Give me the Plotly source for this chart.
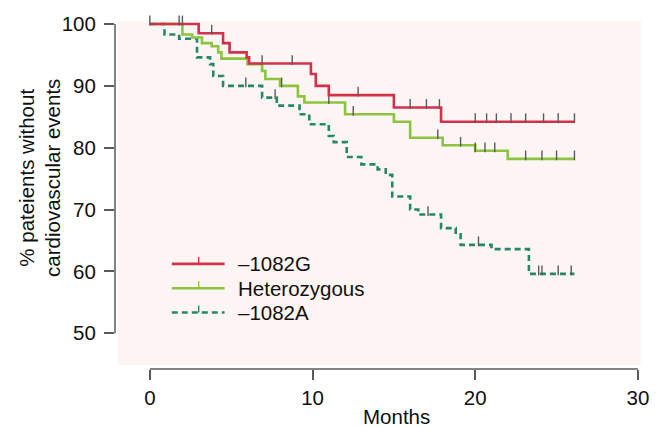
import plotly.graph_objects as go

# ---------------- data ----------------
months_g = [3.0, 4.5, 4.9, 5.95, 6.1, 9.9, 10.2, 11.0, 15.0, 17.9]
surv_g = [98.5, 96.9, 95.4, 94.6, 93.6, 91.9, 90.0, 88.5, 86.5, 84.2]
cens_g = [0.0, 1.8, 2.0, 3.8, 6.9, 8.75, 12.8, 16.0, 17.0, 17.8,
          20.0, 20.7, 21.3, 22.2, 23.1, 24.2, 25.1, 26.1]
end_g = 26.1

months_h = [2.0, 2.6, 3.2, 3.8, 4.2, 4.4, 6.0, 6.9, 7.1, 8.0, 9.1, 9.5,
            12.0, 15.0, 16.0, 18.0, 20.0, 22.0]
surv_h = [98.3, 97.8, 96.9, 96.4, 95.4, 94.4, 93.5, 92.4, 91.1, 90.0, 88.3, 87.3,
          85.4, 84.2, 81.6, 80.4, 79.5, 78.2]
cens_h = [8.1, 11.0, 12.5, 17.7, 19.1, 20.0, 20.6, 21.2, 23.1, 24.1, 25.0, 26.1]
end_h = 26.1

months_a = [0.9, 1.8, 2.9, 3.7, 3.9, 4.5, 6.9, 7.8, 9.2, 9.8, 11.0, 11.3, 12.1,
            13.0, 14.0, 14.5, 14.9, 16.0, 16.5, 17.9, 18.8, 19.1, 21.0, 23.3]
surv_a = [98.3, 97.6, 94.6, 93.5, 91.6, 90.0, 88.1, 86.8, 85.4, 83.8, 81.9, 80.9, 78.5,
          77.3, 76.5, 75.6, 72.1, 70.0, 69.2, 67.0, 66.0, 64.3, 63.6, 59.6]
cens_a = [5.9, 7.7, 17.1, 20.2, 23.9, 24.1, 25.1, 25.9]
end_a = 26.1

series_names = ["\u20131082G", "Heterozygous", "\u20131082A"]
x_ticks = [0, 10, 20, 30]
y_ticks = [50, 60, 70, 80, 90, 100]

# ---------------- geometry / style ----------------
W, H = 661, 427
ML, MR, MT, MB = 115, 18, 17, 58
PW, PH = W - ML - MR, H - MT - MB
XR = [-2.143, 30.19]
YR = [44.23, 100.64]
FONT = "Liberation Sans, Arial, Helvetica, sans-serif"
FS = 20.5
AXC = "#5a5a5a"
colors = ["#d3304c", "#8cc43f", "#26866a"]
dashes = ["solid", "solid", "6px,4px"]
px_per_unit = PH / (YR[1] - YR[0])


def px_x(p):
    return (p - ML) / PW


def px_y(p):
    return (H - MB - p) / PH


def step_value(months, surv, t):
    v = 100.0
    for m, s in zip(months, surv):
        if m <= t:
            v = s
    return v


fig = go.Figure()

groups = [
    (months_a, surv_a, cens_a, end_a, 2),
    (months_h, surv_h, cens_h, end_h, 1),
    (months_g, surv_g, cens_g, end_g, 0),
]
for months, surv, cens, end, k in groups:
    xs = [0.0] + months + [end]
    ys = [100.0] + surv + [surv[-1]]
    fig.add_trace(go.Scatter(
        x=xs, y=ys, mode="lines", line_shape="hv",
        line=dict(color=colors[k], width=2.6, dash=dashes[k]),
        showlegend=False, hoverinfo="skip"))
    off = 3.5 / px_per_unit
    fig.add_trace(go.Scatter(
        x=cens, y=[step_value(months, surv, t) + off for t in cens],
        mode="markers",
        marker=dict(symbol="line-ns", size=7, line=dict(color=AXC, width=1.4)),
        showlegend=False, hoverinfo="skip", cliponaxis=False))

shapes = []
# pink plotting panel
shapes.append(dict(type="rect", xref="paper", yref="paper",
                   x0=px_x(118), x1=px_x(643), y0=px_y(365), y1=px_y(18),
                   fillcolor="#fdf5f3", line=dict(width=0), layer="below"))
# detached axis lines
shapes.append(dict(type="line", xref="paper", yref="paper",
                   x0=0, x1=0,
                   y0=(y_ticks[0] - YR[0]) / (YR[1] - YR[0]),
                   y1=(y_ticks[-1] - YR[0]) / (YR[1] - YR[0]),
                   line=dict(color=AXC, width=1.5)))
shapes.append(dict(type="line", xref="paper", yref="paper",
                   y0=0, y1=0,
                   x0=(x_ticks[0] - XR[0]) / (XR[1] - XR[0]),
                   x1=(x_ticks[-1] - XR[0]) / (XR[1] - XR[0]),
                   line=dict(color=AXC, width=1.5)))

# manual legend
annotations = []
leg_y = [263, 287.5, 312]
for i, name in enumerate(series_names):
    shapes.append(dict(type="line", xref="paper", yref="paper",
                       x0=px_x(172), x1=px_x(225), y0=px_y(leg_y[i]), y1=px_y(leg_y[i]),
                       line=dict(color=colors[i], width=2.6, dash=dashes[i])))
    shapes.append(dict(type="line", xref="paper", yref="paper",
                       x0=px_x(199), x1=px_x(199), y0=px_y(leg_y[i]), y1=px_y(leg_y[i] - 7),
                       line=dict(color=colors[i], width=1.4)))
    annotations.append(dict(xref="paper", yref="paper", x=px_x(236), y=px_y(leg_y[i]),
                            text=name, showarrow=False, xanchor="left", yanchor="middle",
                            font=dict(family=FONT, size=FS, color="#111")))

annotations.append(dict(xref="paper", yref="paper", x=px_x(39), y=px_y(176),
                        text="% pateients without<br>cardiovascular events",
                        textangle=-90, showarrow=False, xanchor="center", yanchor="middle",
                        font=dict(family=FONT, size=FS, color="#111")))
annotations.append(dict(xref="paper", yref="paper", x=px_x(398), y=px_y(417),
                        text="Months", showarrow=False, xanchor="center", yanchor="middle",
                        font=dict(family=FONT, size=FS, color="#111")))

fig.update_layout(
    width=W, height=H,
    margin=dict(l=ML, r=MR, t=MT, b=MB, pad=0),
    paper_bgcolor="white", plot_bgcolor="rgba(0,0,0,0)",
    font=dict(family=FONT, size=FS, color="#111"),
    shapes=shapes, annotations=annotations,
    xaxis=dict(range=XR, tickvals=x_ticks, ticks="outside", ticklen=10,
               tickwidth=1.5, tickcolor=AXC, showgrid=False, zeroline=False,
               showline=False, fixedrange=True),
    yaxis=dict(range=YR, tickvals=y_ticks, ticks="outside", ticklen=10,
               tickwidth=1.5, tickcolor=AXC, showgrid=False, zeroline=False,
               showline=False, ticklabelstandoff=4, fixedrange=True),
    showlegend=False,
)

fig.write_html(
    "out.html",
    config={"displayModeBar": False},
    post_script="document.body.style.margin='0px';document.body.style.overflow='hidden';",
)
